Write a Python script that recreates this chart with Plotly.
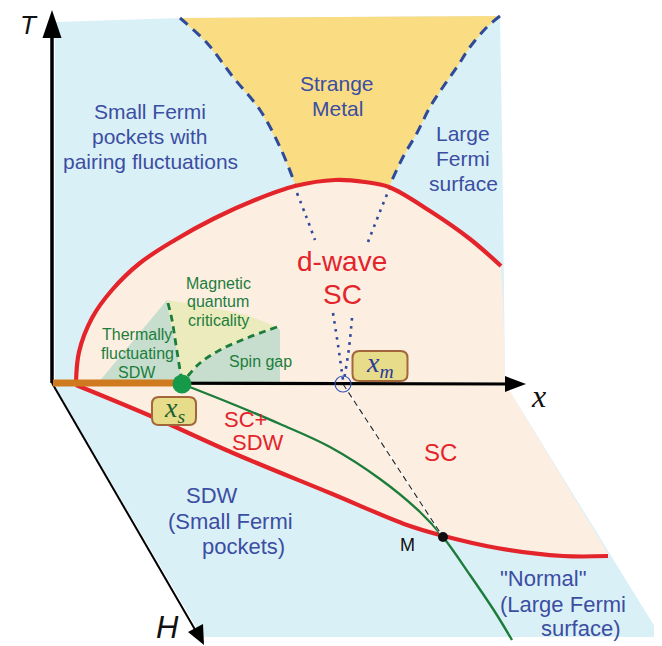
import plotly.graph_objects as go

# ---------------- schematic data (drawing units, y grows downward) ----------------
origin = [52, 383]
T_tip = [52, 10]
x_tip = [526, 384]
H_tip = [204, 645]

upper_plane_x = [55, 180, 500, 503, 505, 55]
upper_plane_y = [22, 18, 16, 200, 383, 383]

lower_plane_x = [54, 506, 661, 202]
lower_plane_y = [385, 385, 637, 637]

sm_left_x = [180, 207, 233, 260, 280, 295]
sm_left_y = [18, 43, 77, 110, 147, 184]
sm_right_x = [500, 487, 470, 457, 443, 430, 417, 403, 389]
sm_right_y = [16, 27, 47, 67, 87, 107, 133, 157, 187]

dome_x = [76, 79, 92, 112, 140, 175, 215, 255, 295, 335, 365, 389, 430, 470, 501]
dome_y = [383, 352, 318, 290, 263, 240, 218, 200, 186, 180, 182, 187, 211, 239, 266]

lower_sc_x = [76, 153, 233, 330, 407, 440, 497, 563, 608]
lower_sc_y = [385, 417, 453, 493, 525, 535, 548, 556, 556]

sdw_x = [182, 230, 280, 330, 380, 420, 443, 470, 495, 512]
sdw_y = [384, 403, 424, 447, 479, 512, 537, 575, 612, 640]

thermal_x = [98, 167, 170, 176, 180, 182]
thermal_y = [383, 300, 320, 345, 370, 383]
mqc_x = [167, 210, 247, 277, 247, 220, 200, 187, 182, 180, 176, 170]
mqc_y = [300, 307, 315, 327, 338, 350, 363, 377, 383, 370, 345, 320]
spingap_x = [277, 280, 280, 182, 187, 200, 220, 247]
spingap_y = [327, 330, 383, 383, 377, 363, 350, 338]

gdash1_x = [168, 172, 176, 180, 182]
gdash1_y = [303, 320, 345, 370, 382]
gdash2_x = [277, 247, 220, 200, 187, 183]
gdash2_y = [327, 338, 350, 363, 377, 382]

dot_segments = [
    ([297, 306, 315], [193, 216, 240]),
    ([390, 379, 368], [187, 214, 242]),
    ([333, 338, 343], [313, 345, 380]),
    ([352, 349, 344], [318, 348, 380]),
]

x_s_pt = [182, 384]
x_m_pt = [343, 384]
M_pt = [443, 537]

x_s_box = [174, 411, 44, 28]   # centre x, centre y, width, height
x_m_box = [380, 366, 55, 30]

# ---------------- colours ----------------
LBLUE = "#DAF0F7"
YELLOW = "#FADC82"
PEACH = "#FDEEE2"
RED = "#E3242B"
DBLUE = "#2E4A9B"
TBLUE = "#3B4EA2"
GREEN = "#1C7D3B"
GGREY = "#C7DECF"
GYEL = "#EBEBBE"
ORANGE = "#D07A1F"

fig = go.Figure()


def fill(x, y, color, shape="linear"):
    fig.add_trace(go.Scatter(x=x, y=y, fill="toself", fillcolor=color, mode="lines",
                             line=dict(width=0, shape=shape), hoverinfo="skip"))


def line(x, y, color, width, dash="solid", shape="spline"):
    fig.add_trace(go.Scatter(x=x, y=y, mode="lines",
                             line=dict(color=color, width=width, dash=dash, shape=shape),
                             hoverinfo="skip"))


# planes
fill(upper_plane_x, upper_plane_y, LBLUE)
fill(lower_plane_x, lower_plane_y, LBLUE)

# strange metal
i0, i1 = dome_x.index(295), dome_x.index(389)
ym_x = sm_left_x + dome_x[i0 + 1:i1] + sm_right_x[::-1]
ym_y = sm_left_y + dome_y[i0 + 1:i1] + sm_right_y[::-1]
fill(ym_x, ym_y, YELLOW)

# superconducting dome (upper) and SC region (lower)
fill(dome_x + [503, 505], dome_y + [300, 383], PEACH)
fill(lower_sc_x + [610, 506], lower_sc_y + [557, 385], PEACH)

# magnetic wedges
fill(thermal_x, thermal_y, GGREY)
fill(mqc_x, mqc_y, GYEL)
fill(spingap_x, spingap_y, GGREY)

# boundaries
line(sm_left_x, sm_left_y, DBLUE, 3, "10px,7px")
line(sm_right_x, sm_right_y, DBLUE, 3, "10px,7px")
for sx, sy in dot_segments:
    line(sx, sy, DBLUE, 2.6, "2.6px,5.5px")
line(gdash1_x, gdash1_y, GREEN, 2.8, "7px,5px")
line(gdash2_x, gdash2_y, GREEN, 2.8, "7px,5px")
line(dome_x, dome_y, RED, 4.2)
line(lower_sc_x, lower_sc_y, RED, 4.2)
line(sdw_x, sdw_y, GREEN, 2.4)

# dashed line x_m -> M
line([x_m_pt[0], M_pt[0]], [x_m_pt[1], M_pt[1]], "white", 1.6, shape="linear")
line([x_m_pt[0], M_pt[0]], [x_m_pt[1], M_pt[1]], "#222222", 1.1, "6px,4px", shape="linear")

# axes
line([origin[0], T_tip[0]], [origin[1], T_tip[1] + 25], "black", 3.5, shape="linear")
line([origin[0], x_tip[0] - 18], [origin[1], x_tip[1]], "black", 3.2, shape="linear")
line([origin[0], H_tip[0] - 7], [origin[1], H_tip[1] - 12], "black", 2.0, shape="linear")
fill([T_tip[0], T_tip[0] - 9.5, T_tip[0] + 9.5], [T_tip[1], T_tip[1] + 28, T_tip[1] + 28], "black")
fill([x_tip[0], x_tip[0] - 21, x_tip[0] - 21], [x_tip[1], x_tip[1] - 8, x_tip[1] + 8], "black")
fill([H_tip[0], H_tip[0] - 16, H_tip[0] - 1], [H_tip[1], H_tip[1] - 13, H_tip[1] - 21], "black")

# orange SDW segment
line([origin[0] + 1, x_s_pt[0]], [origin[1], origin[1]], ORANGE, 7, shape="linear")

# points
fig.add_trace(go.Scatter(x=[x_s_pt[0]], y=[x_s_pt[1]], mode="markers",
                         marker=dict(size=19, color="#169A4A"), hoverinfo="skip"))
fig.add_trace(go.Scatter(x=[x_m_pt[0]], y=[x_m_pt[1]], mode="markers",
                         marker=dict(size=16, color="rgba(0,0,0,0)",
                                     line=dict(color="#3552B5", width=1.2)), hoverinfo="skip"))
fig.add_trace(go.Scatter(x=[M_pt[0]], y=[M_pt[1]], mode="markers",
                         marker=dict(size=10, color="#111111"), hoverinfo="skip"))


# label boxes
def rbox(cx, cy, w, h, r=7):
    x0, x1, y0, y1 = cx - w / 2, cx + w / 2, cy - h / 2, cy + h / 2
    p = (f"M {x0 + r},{y0} L {x1 - r},{y0} Q {x1},{y0} {x1},{y0 + r} "
         f"L {x1},{y1 - r} Q {x1},{y1} {x1 - r},{y1} L {x0 + r},{y1} "
         f"Q {x0},{y1} {x0},{y1 - r} L {x0},{y0 + r} Q {x0},{y0} {x0 + r},{y0} Z")
    fig.add_shape(type="path", path=p, xref="x", yref="y", fillcolor="#E6DC8A",
                  line=dict(color="#A3663A", width=2))


rbox(*x_s_box)
rbox(*x_m_box)

SANS = "Liberation Sans, Arial, sans-serif"
SERIF = "Liberation Serif, Times New Roman, serif"


def txt(x, y, s, color, size, family=SANS):
    fig.add_annotation(x=x, y=y, text=s, showarrow=False, xref="x", yref="y",
                       font=dict(family=family, size=size, color=color),
                       xanchor="center", yanchor="middle")


txt(150, 111, "Small Fermi", TBLUE, 21)
txt(150, 136, "pockets with", TBLUE, 21)
txt(150, 161, "pairing fluctuations", TBLUE, 21)
txt(337, 83, "Strange", TBLUE, 21)
txt(337, 108, "Metal", TBLUE, 21)
txt(463, 133, "Large", TBLUE, 21)
txt(463, 158, "Fermi", TBLUE, 21)
txt(463, 183, "surface", TBLUE, 21)
txt(342, 261, "d-wave", RED, 28)
txt(342, 294, "SC", RED, 28)
txt(218, 283, "Magnetic", GREEN, 16)
txt(218, 301, "quantum", GREEN, 16)
txt(218, 320, "criticality", GREEN, 16)
txt(137, 334, "Thermally", GREEN, 16)
txt(137, 353, "fluctuating", GREEN, 16)
txt(137, 372, "SDW", GREEN, 16)
txt(260, 361, "Spin gap", GREEN, 16)
txt(245, 419, "SC+", RED, 22)
txt(258, 442, "SDW", RED, 22)
txt(440, 452, "SC", RED, 24)
txt(212, 495, "SDW", TBLUE, 22)
txt(230, 521, "(Small Fermi", TBLUE, 22)
txt(243, 546, "pockets)", TBLUE, 22)
txt(543, 578, "\"Normal\"", TBLUE, 22)
txt(563, 604, "(Large Fermi", TBLUE, 22)
txt(580, 628, "surface)", TBLUE, 22)
txt(407, 545, "M", "#111111", 18)

txt(29, 25, "<i>T</i>", "#111111", 26)
txt(167, 627, "<i>H</i>", "#111111", 31)
txt(538, 396, "<i>x</i>", "#111111", 32, SERIF)
txt(x_s_box[0], x_s_box[1] - 2, "<i>x</i><sub><i>s</i></sub>", "#1E5E30", 28, SERIF)
txt(x_m_box[0], x_m_box[1] - 2, "<i>x</i><sub><i>m</i></sub>", "#2A3A9A", 28, SERIF)

# the page body adds an 8px margin; offset the ranges so drawing units equal page pixels
PAGE_MARGIN = 8
fig.update_xaxes(range=[PAGE_MARGIN, 662 + PAGE_MARGIN], visible=False, fixedrange=True)
fig.update_yaxes(range=[646 + PAGE_MARGIN, PAGE_MARGIN], visible=False, fixedrange=True)
fig.update_layout(width=662, height=646, margin=dict(l=0, r=0, t=0, b=0),
                  paper_bgcolor="white", plot_bgcolor="white", showlegend=False)

fig.write_html("out.html")
